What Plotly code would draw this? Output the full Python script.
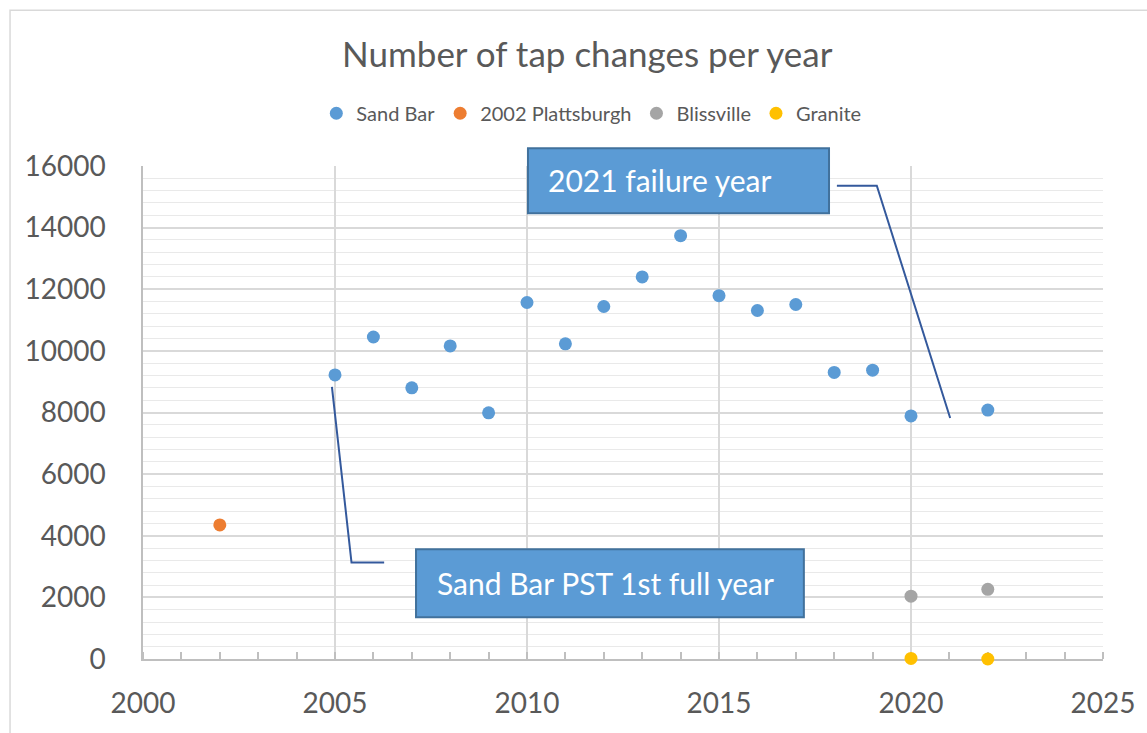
import plotly.graph_objects as go

# ---- data ----
sandbar_years = [2005, 2006, 2007, 2008, 2009, 2010, 2011, 2012, 2013, 2014,
                 2015, 2016, 2017, 2018, 2019, 2020, 2022]
sandbar_vals = [9220, 10450, 8800, 10160, 7990, 11570, 10230, 11440, 12400, 13740,
                11790, 11310, 11505, 9300, 9375, 7890, 8080]
plattsburgh_years = [2002]
plattsburgh_vals = [4350]
blissville_years = [2020, 2022]
blissville_vals = [2040, 2260]
granite_years = [2020, 2022]
granite_vals = [20, 0]

x_ticks = [2000, 2005, 2010, 2015, 2020, 2025]
y_ticks = [0, 2000, 4000, 6000, 8000, 10000, 12000, 14000, 16000]

FONT = "Lato"
GREY = "#595959"

fig = go.Figure()
series = [
    ("Sand Bar", sandbar_years, sandbar_vals, "#5B9BD5"),
    ("2002 Plattsburgh", plattsburgh_years, plattsburgh_vals, "#ED7D31"),
    ("Blissville", blissville_years, blissville_vals, "#A5A5A5"),
    ("Granite", granite_years, granite_vals, "#FFC000"),
]
for name, xs, ys, col in series:
    fig.add_trace(go.Scatter(x=xs, y=ys, mode="markers", name=name,
                             marker=dict(size=13, color=col),
                             cliponaxis=False))

# callout boxes + connector lines
box_fill = "#5B9BD5"
box_line = "#41719C"
conn = "#34599C"
shapes = [
    dict(type="rect", xref="paper", yref="paper", x0=0.401, x1=0.7146, y0=0.904, y1=1.036,
         fillcolor=box_fill, line=dict(color=box_line, width=2), layer="above"),
    dict(type="rect", xref="x", yref="y", x0=2007.11, x1=2017.21, y0=1355, y1=3560,
         fillcolor=box_fill, line=dict(color=box_line, width=2), layer="above"),
    dict(type="path", xref="x", yref="y",
         path="M 2018.07,15360 L 2019.11,15360 L 2021.02,7820",
         line=dict(color=conn, width=2), layer="above"),
    dict(type="path", xref="x", yref="y",
         path="M 2004.92,8830 L 2005.43,3130 L 2006.28,3130",
         line=dict(color=conn, width=2), layer="above"),
    # outer chart frame
    dict(type="rect", xref="paper", yref="paper", x0=-0.1385, x1=1.1, y0=-0.2, y1=1.316,
         line=dict(color="#D9D9D9", width=1.5), fillcolor="rgba(0,0,0,0)", layer="below"),
]

annotations = [
    dict(x=2010.5, y=15530, xref="x", yref="y", text="2021 failure year",
         showarrow=False, xanchor="left", yanchor="middle",
         font=dict(family=FONT, size=30, color="white")),
    dict(x=2007.6, y=2460, xref="x", yref="y", text="Sand Bar PST 1st full year",
         showarrow=False, xanchor="left", yanchor="middle",
         font=dict(family=FONT, size=30, color="white")),
]

fig.update_layout(
    width=1147, height=733,
    margin=dict(l=143, r=44, t=166, b=74),
    paper_bgcolor="white", plot_bgcolor="white",
    font=dict(family=FONT, color=GREY),
    title=dict(text="Number of tap changes per year", x=0.512, y=1 - 55 / 733,
               xanchor="center", yanchor="middle", xref="container", yref="container",
               font=dict(family=FONT, size=35, color=GREY)),
    legend=dict(orientation="h", x=0.467, y=1.107, xanchor="center", yanchor="middle",
                font=dict(family=FONT, size=20, color=GREY), itemwidth=30,
                bgcolor="rgba(0,0,0,0)"),
    shapes=shapes,
    annotations=annotations,
    showlegend=True,
)

fig.update_xaxes(range=[2000, 2025], tickvals=x_ticks, ticktext=[str(v) for v in x_ticks],
                 showgrid=True, gridcolor="#D9D9D9", gridwidth=1.5,
                 showline=True, linecolor="#BFBFBF", linewidth=1.5,
                 ticks="", zeroline=False, layer="below traces",
                 tickfont=dict(family=FONT, size=28, color=GREY),
                 ticklabelstandoff=19,
                 minor=dict(dtick=1, tick0=2000, ticks="inside", ticklen=7,
                            tickcolor="#BFBFBF", tickwidth=1.5, showgrid=False))
fig.update_yaxes(range=[0, 16000], tickvals=y_ticks, ticktext=[str(v) for v in y_ticks],
                 showgrid=True, gridcolor="#D9D9D9", gridwidth=1.5,
                 showline=True, linecolor="#BFBFBF", linewidth=1.5,
                 ticks="", zeroline=False, layer="below traces",
                 tickfont=dict(family=FONT, size=28, color=GREY),
                 ticklabelstandoff=30,
                 minor=dict(dtick=400, tick0=0, showgrid=True, gridcolor="#E9E9E9",
                            gridwidth=1))

fig.write_html("out.html", config={"displayModeBar": False},
               post_script="document.body.style.margin='0';document.body.style.overflow='hidden';")
